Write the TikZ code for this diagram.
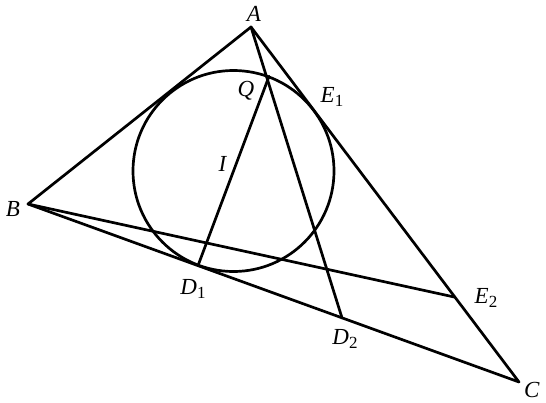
\documentclass[tikz,border=0pt]{standalone}
\usepackage{fontspec}
\setmainfont{Liberation Serif}
\usetikzlibrary{calc}
\newcommand{\ptlab}[2]{\textit{#1}\raisebox{-0.45ex}{\fontsize{17}{17}\selectfont #2}}
\begin{document}
\begin{tikzpicture}[x=1pt,y=-1pt,
  geo/.style={line width=2.7pt, line join=round, line cap=round},
  lab/.style={inner sep=0pt, font=\fontsize{23}{24}\selectfont}]
\useasboundingbox (0,0) rectangle (546,402);
\coordinate (A) at (251,27);
\coordinate (B) at (28,204);
\coordinate (C) at (519,382);
\coordinate (I) at (233.5,171);
\coordinate (D1) at ($(B)!0.3462!(C)$);
\coordinate (D2) at ($(B)!0.6395!(C)$);
\coordinate (E2) at ($(A)!0.761!(C)$);
\coordinate (Q) at ($(I)!-1!(D1)$);
\draw[geo] (A) -- (B) -- (C) -- cycle;
\draw[geo] (I) circle[radius=100.5];
\draw[geo] (B) -- (E2);
\draw[geo] (A) -- (D2);
\draw[geo] (Q) -- (D1);
\node[lab] (lA) at (254,14) {\textit{A}};
\node[lab] (lB) at (13,209) {\textit{B}};
\node[lab] (lC) at (532,390) {\textit{C}};
\node[lab] (lQ) at (246,91) {\textit{Q}};
\node[lab] (lI) at (223,164) {\textit{I}};
\node[lab] (lE1) at (332,97) {\ptlab{E}{1}};
\node[lab] (lD1) at (193,289) {\ptlab{D}{1}};
\node[lab] (lD2) at (345,339) {\ptlab{D}{2}};
\node[lab] (lE2) at (486,298) {\ptlab{E}{2}};
\end{tikzpicture}
\end{document}
